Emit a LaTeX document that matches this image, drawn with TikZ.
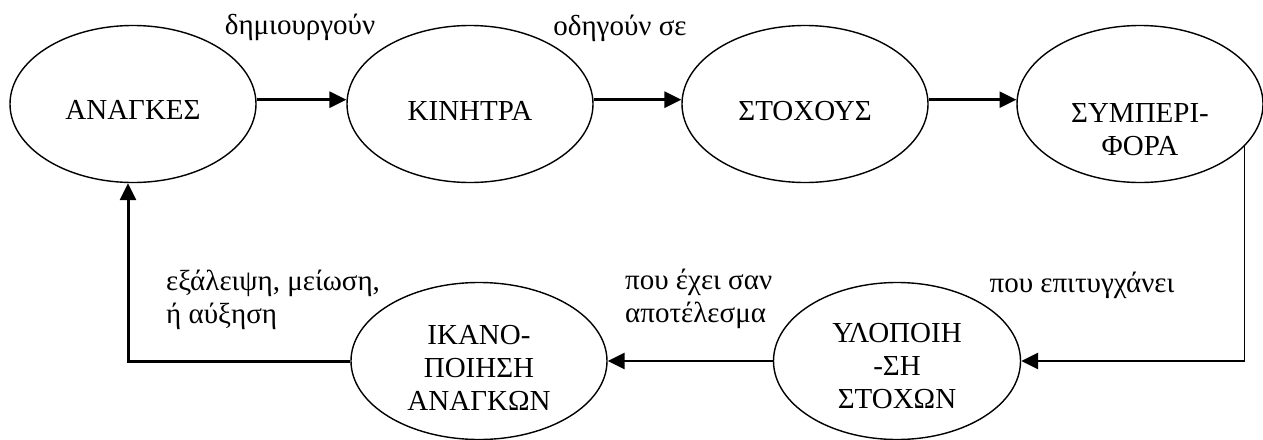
\documentclass[tikz,border=0pt]{standalone}
\usepackage{fontspec}
\setmainfont{Liberation Serif}
\usetikzlibrary{shapes.geometric,arrows.meta}
\begin{document}
\begin{tikzpicture}[x=1pt,y=-1pt,
  every node/.style={font=\fontsize{29}{33}\selectfont},
  stage/.style={ellipse,draw,line width=1.4pt,minimum width=246pt,minimum height=157pt,inner sep=0pt},
  flow/.style={line width=3pt,-{Triangle[length=17pt,width=16pt]}},
  thinflow/.style={line width=1.3pt},
  lbl/.style={inner sep=0pt}
]
\useasboundingbox (0,0) rectangle (1263,439);

% upper row
\node[stage,label={[yshift=-6pt,align=center]center:ΑΝΑΓΚΕΣ}] (e1) at (133,104) {};
\node[stage,label={[yshift=-7pt,align=center]center:ΚΙΝΗΤΡΑ}] (e2) at (470,104) {};
\node[stage,label={[yshift=-7pt,align=center]center:ΣΤΟΧΟΥΣ}] (e3) at (805,104) {};
\node[stage,label={[yshift=-26pt,align=center]center:ΣΥΜΠΕΡΙ-\\ΦΟΡΑ}] (e4) at (1140,104) {};

% lower row
\node[stage,minimum width=247pt,label={[yshift=-5pt,align=center]center:ΥΛΟΠΟΙΗ\\-ΣΗ\\ΣΤΟΧΩΝ}] (e5) at (897,361) {};
\node[stage,minimum width=256pt,label={[yshift=-7pt,align=center]center:ΙΚΑΝΟ-\\ΠΟΙΗΣΗ\\ΑΝΑΓΚΩΝ}] (e6) at (479,361) {};

% connectors
\draw[flow] (e1.2) -- (e2.178);
\draw[flow] (e2.2) -- (e3.178);
\draw[flow] (e3.2) -- (e4.178);

\coordinate (turnR) at (e4.-22.8 |- e5.east);
\draw[thinflow] (e4.-22.8) -- (turnR);
\draw[flow,line width=2.6pt] (turnR) -- (e5.east);
\draw[flow,line width=2.6pt] (e5.west) -- (e6.east);
\draw[flow] (e6.west) -| ([xshift=-5pt]e1.south);

% connector labels
\node[lbl] (l1) at (300,27) {δημιουργούν};
\node[lbl] (l2) at (620,28) {οδηγούν σε};
\node[lbl] (l3) at (1082,285) {που επιτυγχάνει};
\node[lbl,align=left,anchor=west] (l4) at (625,299) {που έχει σαν\\αποτέλεσμα};
\node[lbl,align=left,anchor=west] (l5) at (166,300) {εξάλειψη, μείωση,\\ή αύξηση};
\end{tikzpicture}
\end{document}
